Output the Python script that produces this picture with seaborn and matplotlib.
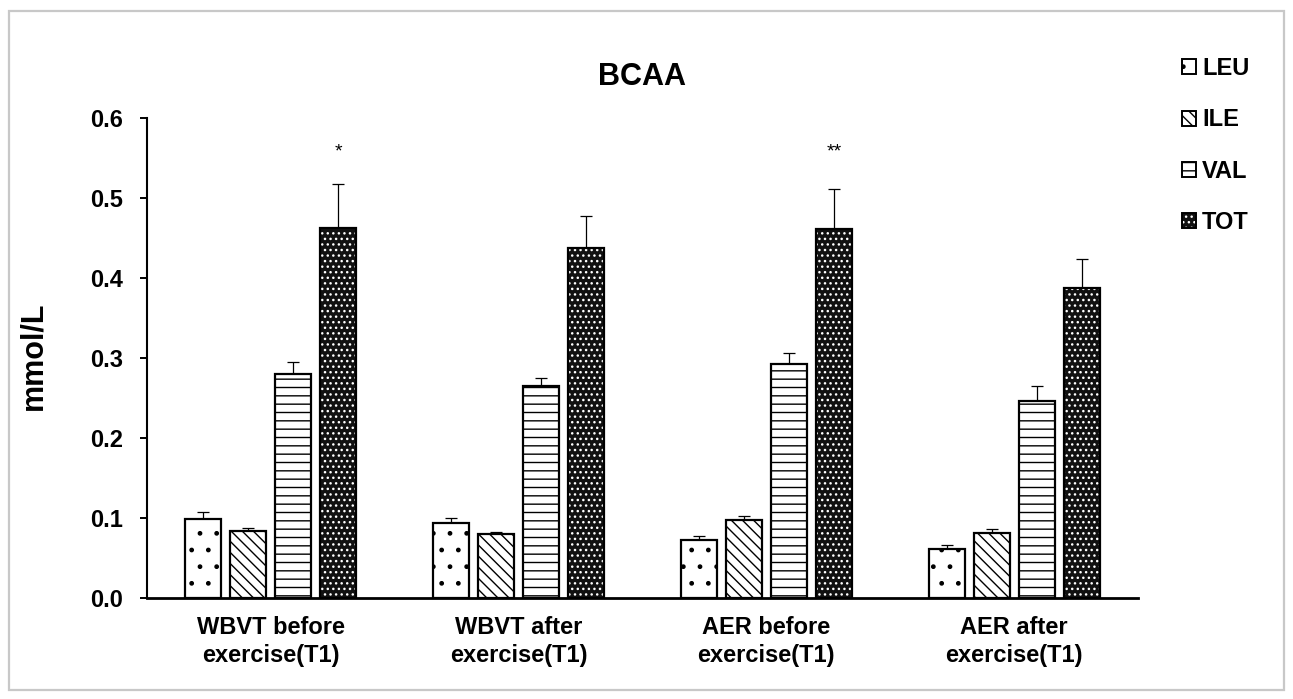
import numpy as np
import pandas as pd
import matplotlib
matplotlib.use("Agg")
import matplotlib.pyplot as plt
from matplotlib.patches import Rectangle, Patch
import seaborn as sns

# ---- data -------------------------------------------------------------
groups = ["WBVT before\nexercise(T1)", "WBVT after\nexercise(T1)",
          "AER before\nexercise(T1)", "AER after\nexercise(T1)"]
acids = ["LEU", "ILE", "VAL", "TOT"]

leu = [0.099, 0.094, 0.073, 0.061]
ile = [0.084, 0.080, 0.097, 0.081]
val = [0.280, 0.265, 0.293, 0.246]
tot = [0.462, 0.437, 0.461, 0.388]

leu_err = [0.0085, 0.006, 0.005, 0.005]
ile_err = [0.004, 0.003, 0.005, 0.005]
val_err = [0.015, 0.010, 0.013, 0.019]
tot_err = [0.056, 0.040, 0.050, 0.036]

signif = ["*", "", "**", ""]
yticks = [0.0, 0.1, 0.2, 0.3, 0.4, 0.5, 0.6]

# ---- styling ----------------------------------------------------------
sns.set_theme(style="ticks")
plt.rcParams["font.family"] = ["Liberation Sans", "DejaVu Sans"]
plt.rcParams["hatch.linewidth"] = 1.0
for key in ("text.color", "axes.labelcolor", "xtick.color", "ytick.color"):
    plt.rcParams[key] = "black"

W, H = 1293, 699
fig = plt.figure(figsize=(W / 100, H / 100), dpi=100)
fig.patch.set_facecolor("white")
ax = fig.add_axes([147 / W, 1 - 598 / H, (1138 - 147) / W, (598 - 118) / H])

df = pd.DataFrame({
    "group": np.repeat(groups, len(acids)),
    "acid": acids * len(groups),
    "value": np.ravel(np.column_stack([leu, ile, val, tot])),
})

sns.barplot(data=df, x="group", y="value", hue="acid", order=groups,
            hue_order=acids, width=0.727, gap=0.2, errorbar=None,
            legend=False, palette=["white"] * 4, ax=ax)

styles = {
    "LEU": dict(face="white", hatch_col="black", hatch="."),
    "ILE": dict(face="white", hatch_col="black", hatch="\\\\\\"),
    "VAL": dict(face="white", hatch_col="black", hatch="--"),
    "TOT": dict(face="#111111", hatch_col="white", hatch="..."),
}
errs = {"LEU": leu_err, "ILE": ile_err, "VAL": val_err, "TOT": tot_err}

for acid, cont in zip(acids, ax.containers):
    st = styles[acid]
    xs, tops = [], []
    for bar in cont:
        bar.set_facecolor(st["face"])
        bar.set_edgecolor(st["hatch_col"])
        bar.set_hatch(st["hatch"])
        bar.set_linewidth(0)
        bar.set_zorder(3)
        # black outline on top of the hatched fill
        ax.add_patch(Rectangle((bar.get_x(), bar.get_y()), bar.get_width(),
                               bar.get_height(), fill=False, edgecolor="black",
                               linewidth=1.6, zorder=4))
        xs.append(bar.get_x() + bar.get_width() / 2)
        tops.append(bar.get_height())
    e = np.array(errs[acid])
    ax.errorbar(xs, tops, yerr=[np.zeros_like(e), e], fmt="none",
                ecolor="black", elinewidth=0.9, capsize=4.3, capthick=0.9,
                zorder=2)
    if acid == "TOT":
        for x, s in zip(xs, signif):
            if s:
                ax.text(x, 0.558, s, ha="center", va="center", fontsize=14,
                        color="black")

ax.set_xlim(-0.5, 3.5)
ax.set_ylim(0, 0.6)
ax.set_yticks(yticks)
ax.set_yticklabels([f"{v:.1f}" for v in yticks], fontsize=17, fontweight="bold")
ax.set_xticks(range(len(groups)))
ax.set_xticklabels(groups, fontsize=17, fontweight="bold", linespacing=1.25)
ax.tick_params(axis="x", length=0, pad=13)
ax.tick_params(axis="y", length=5, width=1.4, pad=12, color="black")
ax.set_xlabel("")
ax.set_ylabel("mmol/L", fontsize=22, fontweight="bold")
ax.yaxis.set_label_coords((48 - 147) / (1138 - 147), 0.504)
ax.set_title("BCAA", fontsize=22, fontweight="bold", pad=24)

sns.despine(ax=ax)
ax.spines["left"].set_linewidth(1.5)
ax.spines["bottom"].set_linewidth(2.0)
ax.spines["left"].set_color("black")
ax.spines["bottom"].set_color("black")

# legend with hatched square keys
handles = []
for acid in acids:
    st = styles[acid]
    fill = Patch(facecolor=st["face"], edgecolor=st["hatch_col"],
                 hatch=st["hatch"], linewidth=0)
    edge = Patch(facecolor="none", edgecolor="black", linewidth=1.4)
    handles.append((fill, edge))
fig.legend(handles, acids, loc="upper left",
           bbox_to_anchor=(1182 / W, 1 - 57 / H), frameon=False,
           prop=dict(size=17, weight="bold"), handlelength=0.6,
           handleheight=0.6, handletextpad=0.25, labelspacing=1.2,
           borderpad=0, borderaxespad=0)

# light grey frame around the whole figure
fig.patches.append(Rectangle((9 / W, 9 / H), (1284 - 9) / W, (690 - 11) / H,
                             transform=fig.transFigure, fill=False,
                             edgecolor="#c8c8c8", linewidth=1.6))

fig.savefig("out.png", dpi=100)
